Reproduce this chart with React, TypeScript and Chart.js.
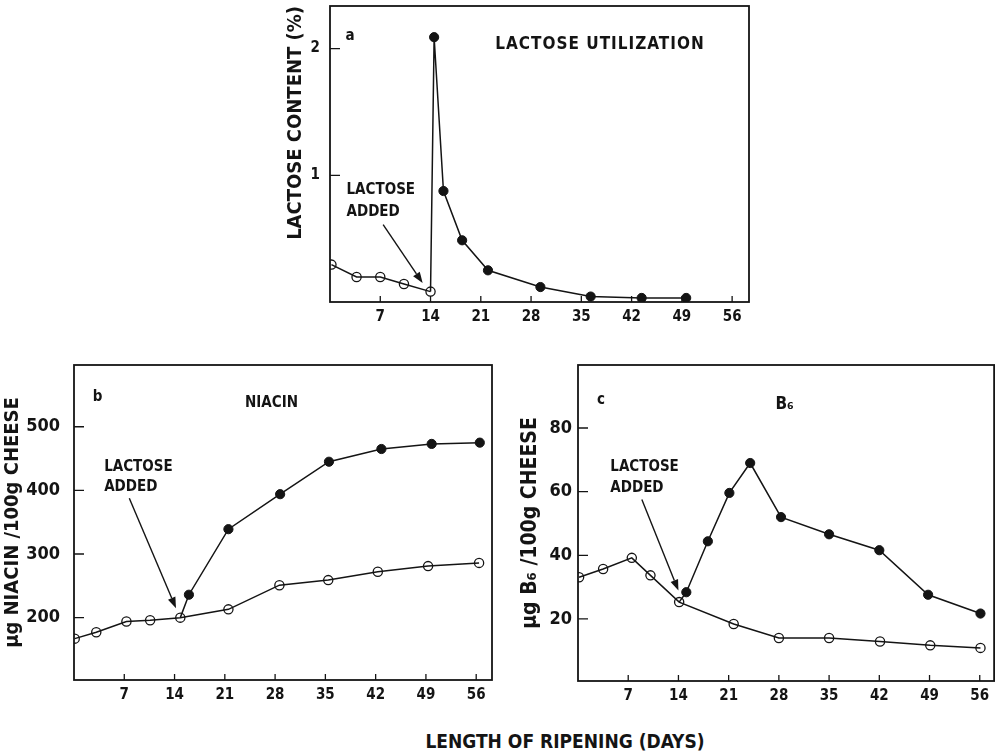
import React, { useEffect, useRef } from "react";
import { Chart, registerables } from "chart.js";

Chart.register(...registerables);

const INK = "#141414";
const COND = '"DejaVu Sans Condensed", "Liberation Sans Narrow", "DejaVu Sans", sans-serif';

// ---- Panel a : lactose utilization ----
const dayTicks = [7, 14, 21, 28, 35, 42, 49, 56];
const aYTicks = [1, 2];
const aOpenDays = [0.2, 3.7, 7, 10.3, 14];
const aOpenLactose = [0.295, 0.197, 0.197, 0.142, 0.082];
const aFilledDays = [14.5, 15.8, 18.4, 22, 29.3, 36.3, 43.4, 49.6];
const aFilledLactose = [2.09, 0.876, 0.487, 0.25, 0.118, 0.043, 0.032, 0.032];

// ---- Panel b : niacin ----
const bYTicks = [200, 300, 400, 500];
const bOpenDays = [0.1, 3.1, 7.3, 10.6, 14.8, 21.5, 28.6, 35.4, 42.3, 49.3, 56.4];
const bOpenNiacin = [167, 177, 194, 196, 200, 213, 251, 259, 272, 281, 286];
const bFilledDays = [16, 21.5, 28.7, 35.5, 42.8, 49.8, 56.5];
const bFilledNiacin = [236, 339, 394, 445, 465, 473, 475];

// ---- Panel c : B6 ----
const cYTicks = [20, 40, 60, 80];
const cOpenDays = [0.15, 3.5, 7.5, 10.1, 14.1, 21.7, 28, 35, 42.1, 49.1, 56.1];
const cOpenB6 = [33.1, 35.7, 39.2, 33.7, 25.3, 18.4, 14.0, 14.0, 12.9, 11.7, 10.9];
const cFilledDays = [15.1, 18.1, 21.1, 24, 28.3, 35, 42, 48.8, 56.1];
const cFilledB6 = [28.4, 44.4, 59.6, 69, 52, 46.6, 41.6, 27.6, 21.7];

type TextItem = { x: number; y: number; text: string; font: string; align?: CanvasTextAlign; spacing?: string };
type ArrowItem = { x1: number; y1: number; x2: number; y2: number };

const framePlugin = {
  id: "frameTicks",
  beforeDatasetsDraw(chart: any) {
    const { ctx, chartArea: ca, scales } = chart;
    ctx.save();
    ctx.strokeStyle = INK;
    ctx.lineWidth = 1.8;
    ctx.strokeRect(ca.left, ca.top, ca.right - ca.left, ca.bottom - ca.top);
    ctx.lineWidth = 1.3;
    ctx.beginPath();
    for (const t of scales.x.ticks) {
      const px = scales.x.getPixelForValue(t.value);
      ctx.moveTo(px, ca.bottom);
      ctx.lineTo(px, ca.bottom - 6);
    }
    for (const t of scales.y.ticks) {
      const py = scales.y.getPixelForValue(t.value);
      ctx.moveTo(ca.left, py);
      ctx.lineTo(ca.left + 10, py);
    }
    ctx.stroke();
    ctx.restore();
  },
};

const annotPlugin = {
  id: "annot",
  afterDatasetsDraw(chart: any, _args: any, opts: any) {
    const { ctx, scales } = chart;
    const X = (v: number) => scales.x.getPixelForValue(v);
    const Y = (v: number) => scales.y.getPixelForValue(v);
    ctx.save();
    ctx.fillStyle = INK;
    ctx.strokeStyle = INK;
    for (const t of (opts.texts || []) as TextItem[]) {
      ctx.font = t.font;
      ctx.textAlign = t.align || "left";
      ctx.textBaseline = "middle";
      (ctx as any).letterSpacing = t.spacing || "0px";
      ctx.fillText(t.text, X(t.x), Y(t.y));
    }
    (ctx as any).letterSpacing = "0px";
    for (const a of (opts.arrows || []) as ArrowItem[]) {
      const x1 = X(a.x1), y1 = Y(a.y1), x2 = X(a.x2), y2 = Y(a.y2);
      const ang = Math.atan2(y2 - y1, x2 - x1);
      const hl = 11, hw = 4;
      const bx = x2 - hl * Math.cos(ang), by = y2 - hl * Math.sin(ang);
      ctx.lineWidth = 1.4;
      ctx.beginPath();
      ctx.moveTo(x1, y1);
      ctx.lineTo(bx, by);
      ctx.stroke();
      ctx.beginPath();
      ctx.moveTo(x2, y2);
      ctx.lineTo(bx + hw * Math.sin(ang), by - hw * Math.cos(ang));
      ctx.lineTo(bx - hw * Math.sin(ang), by + hw * Math.cos(ang));
      ctx.closePath();
      ctx.fill();
    }
    ctx.restore();
  },
};

type Spec = {
  openDays: number[];
  openVals: number[];
  filledDays: number[];
  filledVals: number[];
  junction: number;
  xMax: number;
  yMin: number;
  yMax: number;
  yTicks: number[];
  yWidth: number;
  xHeight: number;
  padding: { left: number; right: number; top: number; bottom: number };
  yTitle: string;
  yTitleAlign: string;
  yTitleSize: number;
  yTitlePad: number;
  yLabelPad: number;
  yLabelSize: number;
  texts: TextItem[];
  arrows: ArrowItem[];
};

function build(canvas: HTMLCanvasElement, s: Spec) {
  const openData = s.openDays.map((d, i) => ({ x: d, y: s.openVals[i] }));
  const filledData = [
    { x: s.openDays[s.junction], y: s.openVals[s.junction] },
    ...s.filledDays.map((d, i) => ({ x: d, y: s.filledVals[i] })),
  ];
  return new Chart(canvas, {
    type: "scatter",
    data: {
      datasets: [
        {
          data: filledData,
          showLine: true,
          borderColor: INK,
          borderWidth: 1.5,
          pointRadius: (c: any) => (c.dataIndex === 0 ? 0 : 4.6),
          pointBackgroundColor: INK,
          pointBorderColor: INK,
          pointBorderWidth: 1,
        },
        {
          data: openData,
          showLine: true,
          borderColor: INK,
          borderWidth: 1.5,
          pointRadius: 4.6,
          pointBackgroundColor: "rgba(0,0,0,0)",
          pointBorderColor: INK,
          pointBorderWidth: 1.3,
        },
      ],
    } as any,
    options: {
      animation: false,
      responsive: false,
      events: [],
      layout: { padding: s.padding },
      plugins: {
        legend: { display: false },
        tooltip: { enabled: false },
        annot: { texts: s.texts, arrows: s.arrows },
      } as any,
      scales: {
        x: {
          type: "linear",
          min: 0,
          max: s.xMax,
          grid: { display: false, drawTicks: false },
          border: { display: false },
          afterBuildTicks: (sc: any) => {
            sc.ticks = dayTicks.map((v) => ({ value: v }));
          },
          afterFit: (sc: any) => {
            sc.height = s.xHeight;
            sc.paddingLeft = 0;
            sc.paddingRight = 0;
          },
          ticks: {
            color: INK,
            font: { family: COND, size: 15, weight: "bold" },
            padding: 6,
            maxRotation: 0,
            autoSkip: false,
            callback: (v: any) => String(v),
          },
        },
        y: {
          type: "linear",
          min: s.yMin,
          max: s.yMax,
          grid: { display: false, drawTicks: false },
          border: { display: false },
          afterBuildTicks: (sc: any) => {
            sc.ticks = s.yTicks.map((v) => ({ value: v }));
          },
          afterFit: (sc: any) => {
            sc.width = s.yWidth;
            sc.paddingTop = 0;
            sc.paddingBottom = 0;
          },
          ticks: {
            color: INK,
            font: { family: COND, size: s.yLabelSize, weight: "bold" },
            padding: s.yLabelPad,
            autoSkip: false,
            callback: (v: any) => String(v),
          },
          title: {
            display: true,
            text: s.yTitle,
            align: s.yTitleAlign,
            color: INK,
            font: { family: COND, size: s.yTitleSize, weight: "bold", lineHeight: 1.2 },
            padding: { top: s.yTitlePad, bottom: 0 },
          },
        },
      } as any,
    },
    plugins: [framePlugin, annotPlugin],
  } as any);
}

const TXT = `bold 15px ${COND}`;
const LBL = `bold 15px ${COND}`;

const specA: Spec = {
  openDays: aOpenDays,
  openVals: aOpenLactose,
  filledDays: aFilledDays,
  filledVals: aFilledLactose,
  junction: 4,
  xMax: 58.35,
  yMin: 0,
  yMax: 2.336,
  yTicks: aYTicks,
  yWidth: 80,
  xHeight: 30,
  padding: { left: 0, right: 11, top: 6, bottom: 13 },
  yTitle: "LACTOSE CONTENT (%)",
  yTitleAlign: "end",
  yTitleSize: 20,
  yTitlePad: 34,
  yLabelPad: 10,
  yLabelSize: 15,
  texts: [
    { x: 2.8, y: 2.1, text: "a", font: LBL, align: "center" },
    { x: 37.6, y: 2.03, text: "LACTOSE UTILIZATION", font: `bold 17px ${COND}`, align: "center", spacing: "1px" },
    { x: 2.3, y: 0.88, text: "LACTOSE", font: TXT },
    { x: 2.3, y: 0.71, text: "ADDED", font: TXT },
  ],
  arrows: [{ x1: 7.4, y1: 0.61, x2: 12.9, y2: 0.15 }],
};

const specB: Spec = {
  openDays: bOpenDays,
  openVals: bOpenNiacin,
  filledDays: bFilledDays,
  filledVals: bFilledNiacin,
  junction: 4,
  xMax: 58.2,
  yMin: 102,
  yMax: 597,
  yTicks: bYTicks,
  yWidth: 74,
  xHeight: 30,
  padding: { left: 0, right: 18, top: 10, bottom: 10 },
  yTitle: "\u03bcg NIACIN /100g CHEESE",
  yTitleAlign: "center",
  yTitleSize: 20,
  yTitlePad: 1,
  yLabelPad: 14,
  yLabelSize: 18,
  texts: [
    { x: 3.3, y: 547, text: "b", font: LBL, align: "center" },
    { x: 27.5, y: 537.7, text: "NIACIN", font: TXT, align: "center" },
    { x: 4.2, y: 437, text: "LACTOSE", font: TXT },
    { x: 4.2, y: 405.7, text: "ADDED", font: TXT },
  ],
  arrows: [{ x1: 7.7, y1: 387.5, x2: 14.2, y2: 214.8 }],
};

const specC: Spec = {
  openDays: cOpenDays,
  openVals: cOpenB6,
  filledDays: cFilledDays,
  filledVals: cFilledB6,
  junction: 4,
  xMax: 58.0,
  yMin: 0.5,
  yMax: 99.8,
  yTicks: cYTicks,
  yWidth: 68,
  xHeight: 30,
  padding: { left: 0, right: 4, top: 10, bottom: 9 },
  yTitle: "\u03bcg B\u2086 /100g CHEESE",
  yTitleAlign: "center",
  yTitleSize: 21,
  yTitlePad: 8,
  yLabelPad: 6,
  yLabelSize: 18,
  texts: [
    { x: 3.2, y: 88.7, text: "c", font: LBL, align: "center" },
    { x: 28.8, y: 87.3, text: "B\u2086", font: `bold 17px ${COND}`, align: "center" },
    { x: 4.5, y: 67.8, text: "LACTOSE", font: TXT },
    { x: 4.5, y: 61.2, text: "ADDED", font: TXT },
  ],
  arrows: [{ x1: 8.9, y1: 57.5, x2: 14.0, y2: 28.9 }],
};

export default function App() {
  const aRef = useRef<HTMLCanvasElement>(null);
  const bRef = useRef<HTMLCanvasElement>(null);
  const cRef = useRef<HTMLCanvasElement>(null);

  useEffect(() => {
    const charts = [
      build(aRef.current!, specA),
      build(bRef.current!, specB),
      build(cRef.current!, specC),
    ];
    return () => charts.forEach((c) => c.destroy());
  }, []);

  return (
    <div
      style={{
        position: "absolute",
        left: 0,
        top: 0,
        width: 1000,
        height: 754,
        background: "#fff",
        overflow: "hidden",
      }}
    >
      <canvas ref={aRef} width={510} height={345} style={{ position: "absolute", left: 250, top: 0, width: 510, height: 345 }} />
      <canvas ref={bRef} width={510} height={365} style={{ position: "absolute", left: 0, top: 355, width: 510, height: 365 }} />
      <canvas ref={cRef} width={490} height={365} style={{ position: "absolute", left: 510, top: 355, width: 490, height: 365 }} />
      <div
        style={{
          position: "absolute",
          left: 365,
          top: 730,
          width: 400,
          textAlign: "center",
          font: `bold 19px ${COND}`,
          lineHeight: "22px",
          color: INK,
        }}
      >
        LENGTH OF RIPENING (DAYS)
      </div>
    </div>
  );
}
